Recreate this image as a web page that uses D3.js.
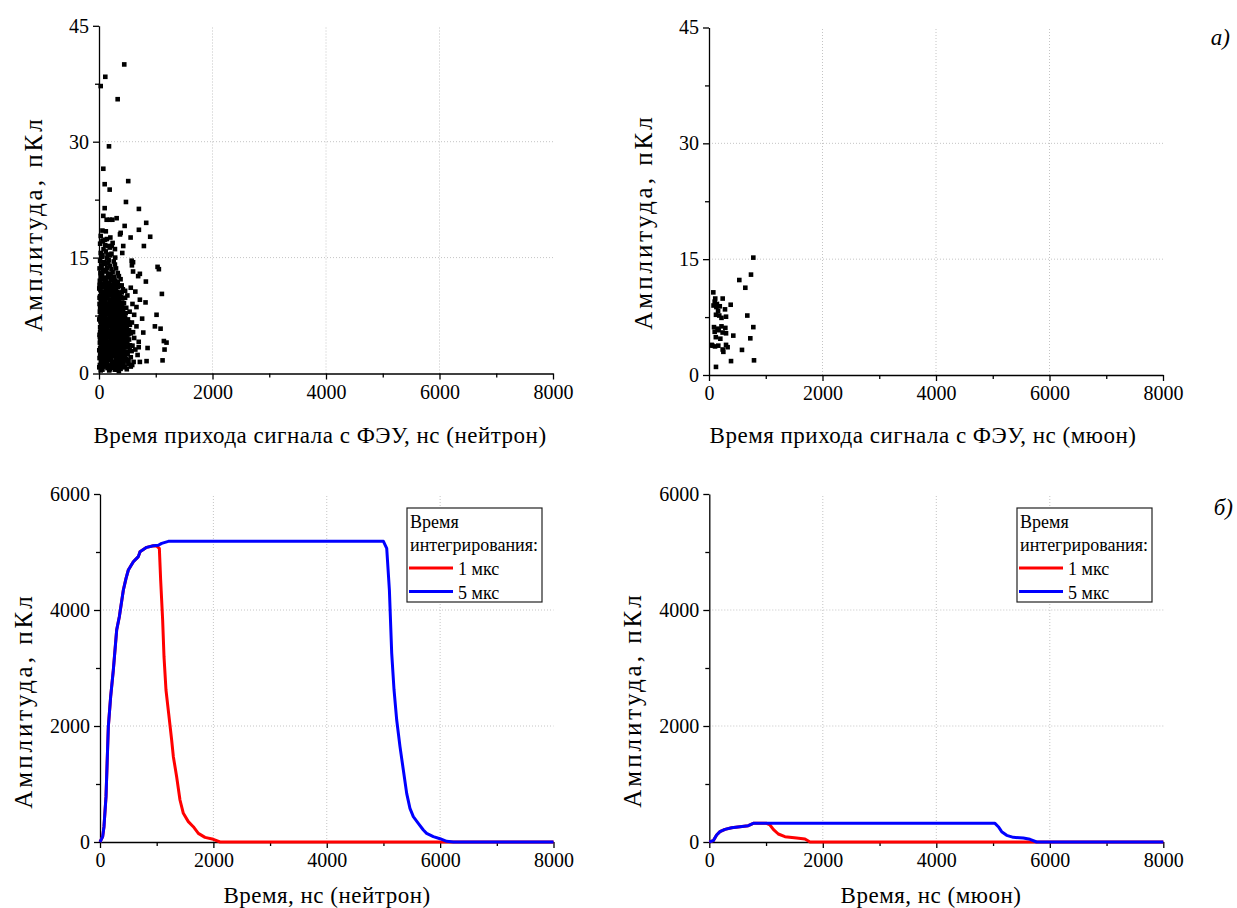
<!DOCTYPE html>
<html>
<head>
<meta charset="utf-8">
<script src="https://cdn.jsdelivr.net/npm/d3@7"></script>
<style>
  body { margin: 0; background: #fff; }
</style>
</head>
<body>
<svg id="chart" width="1237" height="908"></svg>
<script>
// ---- axis ticks ----
const timeTicks = [0, 2000, 4000, 6000, 8000];
const timeMinorTicks = [1000, 3000, 5000, 7000];
const scatterAmpTicks = [0, 15, 30, 45];
const scatterAmpMinorTicks = [7.5, 22.5, 37.5];
const pulseAmpTicks = [0, 2000, 4000, 6000];
const pulseAmpMinorTicks = [1000, 3000, 5000];

// ---- labels ----
const scatterXTitleNeutron = "Время прихода сигнала с ФЭУ, нс (нейтрон)";
const scatterXTitleMuon = "Время прихода сигнала с ФЭУ, нс (мюон)";
const pulseXTitleNeutron = "Время, нс (нейтрон)";
const pulseXTitleMuon = "Время, нс (мюон)";
const ampTitle = "Амплитуда, пКл";
const legendTitle = ["Время", "интегрирования:"];
const legendItems = ["1 мкс", "5 мкс"];
const panelMarks = ["а)", "б)"];

// ---- neutron events: [arrival time, ns ; amplitude, pC] ----
const neutronEvents = [
  [445,40.0],[111,38.4],[30,37.2],[329,35.5],[176,29.4],[76,26.5],[515,24.9],[100,24.5],[188,23.8],
  [475,22.2],[703,21.3],[100,21.4],[76,20.4],[311,20.1],[135,19.9],[190,19.9],[235,19.9],[832,19.5],
  [452,19.1],[60,18.5],[120,18.4],[703,18.6],[382,18.2],[370,18.0],[902,17.7],[557,17.6],[70,17.2],
  [105,17.3],[791,16.5],[165,16.5],[225,16.5],[427,16.5],[281,16.1],[410,15.6],[150,15.4],[200,15.3],
  [285,15.0],[575,14.6],[600,14.4],[1032,13.8],[1055,13.5],[720,12.9],[690,12.6],[826,11.9],[1108,10.3],
  [720,9.55],[1014,7.6],[985,6.1],[1085,5.8],[1143,4.2],[1190,4.0],[856,3.3],[1155,3.1],[1120,1.7],
  [720,1.5],[838,1.6],[311,0.5],[660,8.6],[760,7.1],[640,10.6],[780,5.3],[700,3.4],[820,9.2],[680,2.4],
  [30,0.4],[150,0.7],[280,0.5],[420,0.8],[350,0.3],
  [15,1.1],[80,0.9],[140,1.2],[210,1.0],[270,1.3],[350,1.1],[460,0.9],[520,1.2],
  [40,1.6],[100,1.4],[170,1.7],[230,1.5],[300,1.6],[390,1.4],[440,1.8],[610,1.5],
  [10,2.0],[60,2.2],[120,1.9],[190,2.1],[250,2.3],[330,2.0],[410,2.2],[480,1.9],[560,2.1],
  [25,2.6],[85,2.4],[145,2.7],[215,2.5],[285,2.6],[345,2.4],[400,2.8],[505,2.5],
  [5,3.0],[70,3.1],[130,2.9],[180,3.2],[240,3.0],[310,3.1],[370,2.9],[430,3.2],[540,3.0],[640,3.1],
  [35,3.6],[95,3.4],[160,3.7],[220,3.5],[275,3.6],[335,3.4],[395,3.7],[470,3.5],[590,3.6],
  [15,4.0],[55,4.2],[115,3.9],[175,4.1],[245,4.0],[300,4.2],[360,3.9],[415,4.1],[500,4.0],[700,4.1],
  [40,4.6],[105,4.4],[150,4.7],[205,4.5],[265,4.6],[325,4.4],[385,4.7],[455,4.5],[620,4.6],
  [10,5.0],[75,5.2],[125,4.9],[195,5.1],[235,5.0],[290,5.2],[350,4.9],[405,5.1],[480,5.0],[560,5.2],
  [30,5.6],[90,5.4],[140,5.7],[210,5.5],[270,5.6],[320,5.4],[380,5.7],[440,5.5],[530,5.6],
  [20,6.0],[65,6.2],[115,5.9],[180,6.1],[250,6.0],[305,6.2],[365,5.9],[420,6.1],[490,6.0],[660,6.1],
  [45,6.6],[100,6.4],[160,6.7],[225,6.5],[280,6.6],[340,6.4],[395,6.7],[470,6.5],[580,6.6],
  [5,7.0],[70,7.2],[130,6.9],[185,7.1],[240,7.0],[300,7.2],[355,6.9],[415,7.1],[510,7.0],
  [35,7.6],[95,7.4],[150,7.7],[215,7.5],[275,7.6],[330,7.4],[390,7.7],[450,7.5],[620,7.6],
  [15,8.0],[60,8.2],[120,7.9],[175,8.1],[235,8.0],[290,8.2],[345,7.9],[425,8.1],[540,8.0],
  [40,8.6],[100,8.4],[160,8.7],[205,8.5],[265,8.6],[320,8.4],[380,8.7],[480,8.5],
  [10,9.0],[75,9.2],[135,8.9],[190,9.1],[255,9.0],[310,9.2],[370,8.9],[440,9.1],[590,9.0],
  [30,9.6],[90,9.4],[150,9.7],[220,9.5],[280,9.6],[350,9.4],[410,9.7],
  [20,10.0],[65,10.2],[125,9.9],[180,10.1],[240,10.0],[300,10.2],[390,9.9],[500,10.1],
  [45,10.6],[110,10.4],[165,10.7],[230,10.5],[290,10.6],[360,10.4],[460,10.7],
  [5,11.0],[80,11.2],[140,10.9],[200,11.1],[260,11.0],[330,11.2],[420,10.9],[560,11.1],
  [35,11.6],[95,11.4],[175,11.7],[250,11.5],[310,11.6],[400,11.4],
  [15,12.0],[70,12.2],[130,11.9],[210,12.1],[290,12.0],[380,12.2],
  [50,12.6],[115,12.4],[185,12.7],[270,12.5],[350,12.6],
  [25,13.0],[90,13.2],[160,12.9],[240,13.1],[330,13.0],[600,13.2],
  [10,13.6],[70,13.4],[140,13.7],[220,13.5],[300,13.6],
  [40,14.0],[110,14.2],[190,13.9],[280,14.1],[580,14.0],
  [20,14.6],[90,14.4],[170,14.7],[260,14.5],
  [55,15.1],[140,14.9],[30,15.6],[120,15.8],[220,15.5],[80,16.1],[190,16.3],[20,16.8],[110,16.6],
  [240,16.9],[60,17.1],[140,17.4],[30,17.8],[200,17.6],
  [50,0.65],[190,0.55],[250,0.9],[100,1.25],[320,1.35],[400,1.2],
  [65,1.75],[200,1.85],[340,1.8],[20,2.35],[160,2.3],[290,2.25],[370,2.4],
  [50,2.85],[110,2.75],[210,2.8],[350,2.7],[450,2.85],
  [20,3.3],[145,3.25],[260,3.35],[400,3.3],[510,3.4],
  [80,3.8],[200,3.75],[320,3.8],[440,3.85],
  [25,4.35],[130,4.3],[225,4.35],[345,4.3],[530,4.4],
  [60,4.8],[170,4.85],[280,4.75],[430,4.8],
  [50,5.3],[160,5.35],[255,5.3],[375,5.3],[600,5.35],
  [110,5.8],[230,5.85],[340,5.75],[470,5.85],
  [40,6.3],[135,6.35],[280,6.25],[390,6.35],[545,6.3],
  [75,6.85],[200,6.8],[320,6.85],[440,6.8],
  [25,7.3],[110,7.35],[260,7.3],[380,7.25],
  [70,7.85],[195,7.8],[310,7.85],[470,7.8],
  [30,8.3],[140,8.3],[250,8.35],[400,8.3],
  [55,8.8],[175,8.85],[285,8.8],[345,8.85],
  [45,9.3],[110,9.3],[230,9.35],[330,9.25],
  [10,9.8],[125,9.85],[265,9.75],[460,9.8],
  [95,10.3],[205,10.35],[340,10.3],
  [25,10.8],[155,10.85],[275,10.8],
  [60,11.3],[230,11.3],[360,11.35],
  [105,11.85],[330,11.8],[45,12.35],[230,12.3],
  [35,1.45],[125,1.6],[265,1.15],[375,1.65],[175,2.55],[315,2.5],[425,2.6],[95,3.05],[285,3.15],
  [455,3.45],[55,3.55],[185,3.55],[360,3.6],[85,4.45],[295,4.45],[410,4.4],[20,5.35],[215,5.2],
  [330,5.15],[450,5.25],[85,5.75],[195,6.4],[305,5.9],[430,6.45],[25,6.75],[150,7.05],[335,7.05],
  [460,7.15],[50,7.6],[235,7.65],[360,7.7],[95,8.05],[210,8.15],[370,8.2],[20,8.55],[125,8.6],
  [295,8.55],[410,8.65],[160,9.05],[280,9.15],[400,9.1],[65,9.6],[190,9.55],[310,9.55],[110,9.95],
  [270,10.15],[360,10.05],[80,10.55],[195,10.6],[325,10.55],[120,11.05],[230,10.9],[10,11.45],
  [150,11.35],[280,11.4],[100,11.95],[250,12.05],[30,12.45],[160,12.45],[55,12.8],[205,12.85],
  [130,13.3],[45,13.85],[165,14.3],[60,15.3],
  [5,0.8],[60,0.5],[115,0.95],[180,0.4],[225,0.75],[300,0.85],[380,0.6],[490,0.55],[560,0.9],
  [45,1.3],[155,1.05],[245,1.4],[330,0.95],[430,1.35],[500,1.55],[585,1.1],
  [75,2.05],[140,2.15],[220,1.95],[305,2.1],[385,2.05],[455,2.3],[520,1.75],
  [35,2.95],[160,2.95],[270,2.8],[325,2.9],[480,2.75],[575,2.9],
  [110,3.45],[240,3.5],[300,3.45],[420,3.4],[545,3.65],
  [30,4.1],[140,4.05],[210,4.2],[330,4.0],[470,4.2],
  [15,4.7],[120,4.65],[230,4.7],[355,4.6],[500,4.55],
  [100,5.05],[180,5.25],[265,5.05],[430,5.05],[520,5.1],
  [55,5.6],[175,5.55],[295,5.55],[410,5.65],[505,5.45],
  [90,6.05],[210,6.15],[335,6.05],[455,6.15],
  [70,6.55],[255,6.5],[365,6.55],[520,6.6],
  [100,7.05],[210,7.0],[275,7.15],[385,7.0],
  [65,7.5],[185,7.5],[300,7.55],[420,7.45],
  [145,8.05],[265,8.1],[395,7.95],
  [80,8.55],[225,8.65],[355,8.6],
  [100,9.1],[215,9.0],[340,9.1],
  [55,10.1],[155,10.25],[330,9.95],
  [130,10.7],[260,10.75],[400,10.5],
  [40,11.2],[175,11.25],[300,11.1],
  [140,11.65],[270,11.8]
];

// ---- muon events: [arrival time, ns ; amplitude, pC] ----
const muonEvents = [
  [781,15.2],[740,13.0],[534,12.3],[640,11.3],[76,10.7],[241,9.9],[100,9.5],[140,9.2],[190,8.9],
  [130,8.8],[382,9.1],[282,8.5],[123,7.8],[181,7.7],[300,7.55],[675,7.7],[88,6.2],[150,6.0],
  [220,6.3],[288,6.1],[781,6.2],[100,5.6],[170,5.8],[240,5.5],[300,5.4],[428,5.1],[728,4.75],
  [47,3.9],[106,3.7],[164,3.8],[300,3.9],[328,3.6],[241,3.3],[253,3.0],[581,3.25],[793,1.9],
  [388,1.8],[123,1.05],[60,3.8],[200,4.7],[120,4.9],[80,9.0],[110,9.9],[160,8.3],[220,7.4]
];

// ---- integrated pulse amplitude vs time: [time, ns ; amplitude, pC] ----
const neutronPulse1us = [
  [0,0],[47,92],[70,264],[106,782],[147,1988],[188,2506],[235,2965],[294,3655],[341,3885],
  [412,4345],[459,4546],[500,4690],[588,4833],[676,4920],[706,5006],[823,5080],[941,5109],
  [1000,5103],[1047,5063],[1070,4517],[1105,3827],[1129,3195],[1164,2621],[1211,2218],[1264,1759],
  [1294,1471],[1352,1126],[1411,724],[1470,494],[1558,351],[1646,264],[1735,149],[1852,80],
  [2000,46],[2117,0],[8000,0]
];
const neutronPulse5us = [
  [0,0],[47,92],[70,264],[106,782],[147,1988],[188,2506],[235,2965],[294,3655],[341,3885],
  [412,4345],[459,4546],[500,4690],[588,4833],[676,4920],[706,5006],[823,5080],[941,5109],
  [1029,5115],[1088,5149],[1206,5184],[5000,5184],[5058,5063],[5105,4345],[5146,3253],[5187,2621],
  [5234,2103],[5292,1644],[5351,1241],[5410,839],[5468,580],[5527,437],[5615,322],[5704,207],
  [5762,149],[5880,92],[5998,57],[6115,11],[6233,0],[8000,0]
];
const muonPulse1us = [
  [0,0],[70,23],[129,121],[188,178],[276,218],[394,247],[540,264],[687,282],[775,322],[1010,322],
  [1069,293],[1128,218],[1216,138],[1333,92],[1539,69],[1686,52],[1774,0],[8000,0]
];
const muonPulse5us = [
  [0,0],[70,23],[129,121],[188,178],[276,218],[394,247],[540,264],[687,282],[775,322],[1010,322],
  [5034,322],[5093,264],[5152,178],[5240,115],[5357,80],[5533,69],[5651,46],[5768,0],[8000,0]
];

const svg = d3.select("#chart");
const RED = "#ff0000", BLUE = "#0000ff";
const SERIF = "'Liberation Serif', 'DejaVu Serif', 'Times New Roman', serif";

function drawPanel(cfg) {
  const x = d3.scaleLinear().domain([0, 8000]).range(cfg.xRange);
  const y = d3.scaleLinear().domain(cfg.yDomain).range(cfg.yRange);
  const g = svg.append("g");

  // dotted grid at inner major ticks
  const grid = g.append("g").attr("stroke", "#c4c4c4").attr("stroke-width", 1)
    .attr("stroke-dasharray", "1,2");
  timeTicks.slice(1, -1).forEach(t => {
    grid.append("line").attr("x1", x(t)).attr("x2", x(t))
      .attr("y1", cfg.yRange[0]).attr("y2", cfg.yRange[1]);
  });
  cfg.yTicks.slice(1, -1).forEach(v => {
    grid.append("line").attr("x1", cfg.xRange[0]).attr("x2", cfg.xRange[1])
      .attr("y1", y(v)).attr("y2", y(v));
  });

  // axes
  g.append("g").attr("transform", `translate(0,${cfg.yRange[0]})`)
    .call(d3.axisBottom(x).tickValues(timeTicks).tickSize(6).tickSizeOuter(0)
      .tickPadding(5).tickFormat(d3.format("d")));
  g.append("g").attr("transform", `translate(0,${cfg.yRange[0]})`)
    .call(d3.axisBottom(x).tickValues(timeMinorTicks).tickSize(4).tickSizeOuter(0).tickFormat(""))
    .select(".domain").remove();
  g.append("g").attr("transform", `translate(${cfg.xRange[0]},0)`)
    .call(d3.axisLeft(y).tickValues(cfg.yTicks).tickSize(6).tickSizeOuter(0)
      .tickPadding(4).tickFormat(d3.format("d")));
  g.append("g").attr("transform", `translate(${cfg.xRange[0]},0)`)
    .call(d3.axisLeft(y).tickValues(cfg.yMinor).tickSize(4).tickSizeOuter(0).tickFormat(""))
    .select(".domain").remove();
  g.selectAll(".tick text").attr("font-size", 20).attr("fill", "#000");
  g.selectAll(".domain, .tick line").attr("stroke", "#000").attr("stroke-width", 1.3);

  // titles
  g.append("text").attr("x", cfg.xTitlePos[0]).attr("y", cfg.xTitlePos[1])
    .attr("text-anchor", "middle").attr("font-size", 23).attr("letter-spacing", 0.5)
    .text(cfg.xTitle);
  g.append("text").attr("transform", `translate(${cfg.yTitlePos[0]},${cfg.yTitlePos[1]}) rotate(-90)`)
    .attr("text-anchor", "middle").attr("font-size", 25).attr("letter-spacing", 3)
    .text(ampTitle);

  // marks
  if (cfg.points) {
    const s = 4.6;
    g.append("g").selectAll("rect").data(cfg.points).join("rect")
      .attr("x", d => x(d[0]) - s / 2).attr("y", d => y(d[1]) - s / 2)
      .attr("width", s).attr("height", s).attr("fill", "#000");
  }
  if (cfg.lines) {
    const line = d3.line().x(d => x(d[0])).y(d => y(d[1]));
    cfg.lines.forEach(l => {
      g.append("path").datum(l.data).attr("d", line).attr("fill", "none")
        .attr("stroke", l.color).attr("stroke-width", 3).attr("stroke-linejoin", "round");
    });
  }
  if (cfg.legend) {
    const [lx, ly] = cfg.legend;
    const lg = g.append("g").attr("transform", `translate(${lx},${ly})`);
    lg.append("rect").attr("width", 135).attr("height", 94).attr("fill", "#fff")
      .attr("stroke", "#222").attr("stroke-width", 1.2);
    lg.append("text").attr("x", 3).attr("y", 20).attr("font-size", 18).text(legendTitle[0]);
    lg.append("text").attr("x", 3).attr("y", 43).attr("font-size", 18).text(legendTitle[1]);
    [RED, BLUE].forEach((c, i) => {
      lg.append("line").attr("x1", 2).attr("x2", 46).attr("y1", 60 + i * 23.5).attr("y2", 60 + i * 23.5)
        .attr("stroke", c).attr("stroke-width", 3);
      lg.append("text").attr("x", 51).attr("y", 67 + i * 23.5).attr("font-size", 18).text(legendItems[i]);
    });
  }
}

drawPanel({
  xRange: [99, 553], yRange: [373.5, 25.8], yDomain: [0, 45],
  yTicks: scatterAmpTicks, yMinor: scatterAmpMinorTicks,
  xTitle: scatterXTitleNeutron, xTitlePos: [320, 443], yTitlePos: [42, 224],
  points: neutronEvents
});
drawPanel({
  xRange: [709, 1163], yRange: [375, 27.5], yDomain: [0, 45],
  yTicks: scatterAmpTicks, yMinor: scatterAmpMinorTicks,
  xTitle: scatterXTitleMuon, xTitlePos: [923, 443], yTitlePos: [652, 222],
  points: muonEvents
});
drawPanel({
  xRange: [100, 553.5], yRange: [842, 494], yDomain: [0, 6000],
  yTicks: pulseAmpTicks, yMinor: pulseAmpMinorTicks,
  xTitle: pulseXTitleNeutron, xTitlePos: [327, 903], yTitlePos: [32, 701],
  lines: [{ data: neutronPulse1us, color: RED }, { data: neutronPulse5us, color: BLUE }],
  legend: [407, 508]
});
drawPanel({
  xRange: [709.3, 1163.3], yRange: [842, 494], yDomain: [0, 6000],
  yTicks: pulseAmpTicks, yMinor: pulseAmpMinorTicks,
  xTitle: pulseXTitleMuon, xTitlePos: [931, 903], yTitlePos: [641, 700],
  lines: [{ data: muonPulse1us, color: RED }, { data: muonPulse5us, color: BLUE }],
  legend: [1017, 508]
});

// panel letters
svg.append("text").attr("x", 1230).attr("y", 45).attr("text-anchor", "end")
  .attr("font-size", 23).attr("font-style", "italic").text(panelMarks[0]);
svg.append("text").attr("x", 1233).attr("y", 515).attr("text-anchor", "end")
  .attr("font-size", 23).attr("font-style", "italic").text(panelMarks[1]);

// one typeface for every label
svg.selectAll("g").attr("font-family", null);
svg.selectAll("text").attr("font-family", SERIF).style("font-family", SERIF).attr("fill", "#000");
</script>
</body>
</html>
